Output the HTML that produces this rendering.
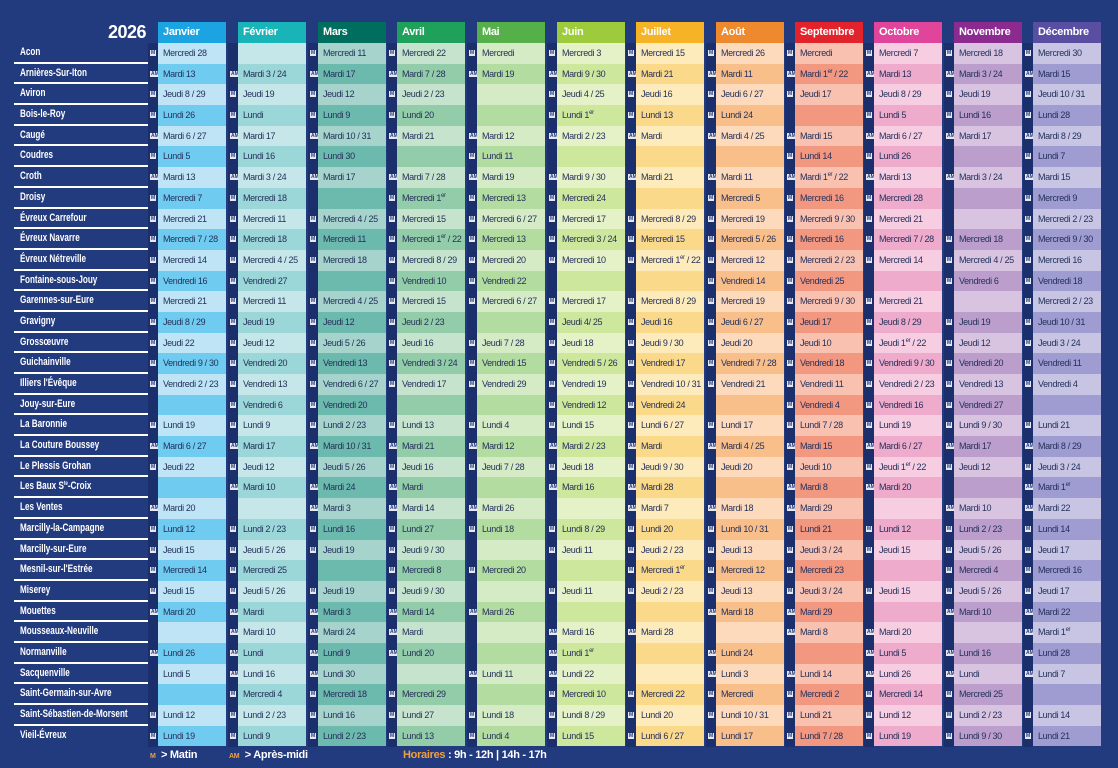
<!DOCTYPE html>
<html><head><meta charset="utf-8">
<style>
*{margin:0;padding:0;box-sizing:border-box}
body{width:1118px;height:768px;background:#223a7e;position:relative;overflow:hidden;font-family:"Liberation Sans",sans-serif}
sup{font-size:6px;line-height:0;vertical-align:4px}
.yr{position:absolute;left:108px;top:22px;color:#fff;font-weight:bold;font-size:18px;letter-spacing:-0.5px}
.names{position:absolute;left:14px;top:43px;width:134px}
.names div{height:20.7px;line-height:19px;color:#fff;font-weight:bold;font-size:11px;padding-left:6px;border-bottom:2px solid #fff;white-space:nowrap}
.names div span{display:inline-block;transform:scaleX(0.74);transform-origin:left center}
.names div:last-child{border-bottom:none}
.col{position:absolute;top:22px;width:68px}
.col .h{height:21px;line-height:21px;color:#fff;font-weight:bold;font-size:11px;padding-left:5px;background:var(--h);letter-spacing:-0.3px}
.col .c{height:20.7px;line-height:20.7px;font-size:9px;letter-spacing:-0.35px;color:#24305a;padding-left:5px;white-space:nowrap;overflow:hidden}
.col .c:nth-child(even){background:var(--l)}
.col .c:nth-child(odd){background:var(--d)}
.mk{position:absolute;top:43px;width:10px;height:704px;background:#1b2f6c}
.mk div{height:20.7px;position:relative}
.mk div span{position:absolute;left:2px;top:7px;height:6px;background:#e8e8f0;color:#223a7e;font-size:5px;line-height:6px;font-weight:bold;padding:0 1px}
.leg{position:absolute;top:749px;color:#fff;font-size:11px;font-weight:bold;letter-spacing:-0.3px}
.o{color:#f0a040}
</style></head><body>
<div class="yr">2026</div>
<div class="names">
<div><span>Acon</span></div><div><span>Arnières-Sur-Iton</span></div><div><span>Aviron</span></div><div><span>Bois-le-Roy</span></div><div><span>Caugé</span></div><div><span>Coudres</span></div><div><span>Croth</span></div><div><span>Droisy</span></div><div><span>Évreux Carrefour</span></div><div><span>Évreux Navarre</span></div><div><span>Évreux Nétreville</span></div><div><span>Fontaine-sous-Jouy</span></div><div><span>Garennes-sur-Eure</span></div><div><span>Gravigny</span></div><div><span>Grossœuvre</span></div><div><span>Guichainville</span></div><div><span>Illiers l'Évêque</span></div><div><span>Jouy-sur-Eure</span></div><div><span>La Baronnie</span></div><div><span>La Couture Boussey</span></div><div><span>Le Plessis Grohan</span></div><div><span>Les Baux S<sup>te</sup>-Croix</span></div><div><span>Les Ventes</span></div><div><span>Marcilly-la-Campagne</span></div><div><span>Marcilly-sur-Eure</span></div><div><span>Mesnil-sur-l'Estrée</span></div><div><span>Miserey</span></div><div><span>Mouettes</span></div><div><span>Mousseaux-Neuville</span></div><div><span>Normanville</span></div><div><span>Sacquenville</span></div><div><span>Saint-Germain-sur-Avre</span></div><div><span>Saint-Sébastien-de-Morsent</span></div><div><span>Vieil-Évreux</span></div>
</div>

<div class="mk" style="left:148px"><div><span>M</span></div><div><span>AM</span></div><div><span>M</span></div><div><span>M</span></div><div><span>AM</span></div><div><span>M</span></div><div><span>AM</span></div><div><span>M</span></div><div><span>M</span></div><div><span>M</span></div><div><span>M</span></div><div><span>M</span></div><div><span>M</span></div><div><span>M</span></div><div><span>M</span></div><div><span>M</span></div><div><span>M</span></div><div></div><div><span>M</span></div><div><span>AM</span></div><div><span>M</span></div><div></div><div><span>AM</span></div><div><span>M</span></div><div><span>M</span></div><div><span>M</span></div><div><span>M</span></div><div><span>AM</span></div><div></div><div><span>AM</span></div><div></div><div></div><div><span>M</span></div><div><span>M</span></div></div>
<div class="mk" style="left:228px"><div></div><div><span>AM</span></div><div><span>M</span></div><div><span>M</span></div><div><span>AM</span></div><div><span>M</span></div><div><span>AM</span></div><div><span>M</span></div><div><span>M</span></div><div><span>M</span></div><div><span>M</span></div><div><span>M</span></div><div><span>M</span></div><div><span>M</span></div><div><span>M</span></div><div><span>M</span></div><div><span>M</span></div><div><span>M</span></div><div><span>M</span></div><div><span>AM</span></div><div><span>M</span></div><div><span>AM</span></div><div></div><div><span>M</span></div><div><span>M</span></div><div><span>M</span></div><div><span>M</span></div><div><span>AM</span></div><div><span>AM</span></div><div><span>AM</span></div><div><span>AM</span></div><div><span>M</span></div><div><span>M</span></div><div><span>M</span></div></div>
<div class="mk" style="left:308px"><div><span>M</span></div><div><span>AM</span></div><div><span>M</span></div><div><span>M</span></div><div><span>AM</span></div><div><span>M</span></div><div><span>AM</span></div><div></div><div><span>M</span></div><div><span>M</span></div><div><span>M</span></div><div></div><div><span>M</span></div><div><span>M</span></div><div><span>M</span></div><div><span>M</span></div><div><span>M</span></div><div><span>M</span></div><div><span>M</span></div><div><span>AM</span></div><div><span>M</span></div><div><span>AM</span></div><div><span>AM</span></div><div><span>M</span></div><div><span>M</span></div><div></div><div><span>M</span></div><div><span>AM</span></div><div><span>AM</span></div><div><span>AM</span></div><div><span>AM</span></div><div><span>M</span></div><div><span>M</span></div><div><span>M</span></div></div>
<div class="mk" style="left:387px"><div><span>M</span></div><div><span>AM</span></div><div><span>M</span></div><div><span>M</span></div><div><span>AM</span></div><div></div><div><span>AM</span></div><div><span>M</span></div><div><span>M</span></div><div><span>M</span></div><div><span>M</span></div><div><span>M</span></div><div><span>M</span></div><div><span>M</span></div><div><span>M</span></div><div><span>M</span></div><div><span>M</span></div><div></div><div><span>M</span></div><div><span>AM</span></div><div><span>M</span></div><div><span>AM</span></div><div><span>AM</span></div><div><span>M</span></div><div><span>M</span></div><div><span>M</span></div><div><span>M</span></div><div><span>AM</span></div><div><span>AM</span></div><div><span>AM</span></div><div></div><div><span>M</span></div><div><span>M</span></div><div><span>M</span></div></div>
<div class="mk" style="left:467px"><div><span>M</span></div><div><span>AM</span></div><div></div><div></div><div><span>AM</span></div><div><span>M</span></div><div><span>AM</span></div><div><span>M</span></div><div><span>M</span></div><div><span>M</span></div><div><span>M</span></div><div><span>M</span></div><div><span>M</span></div><div></div><div><span>M</span></div><div><span>M</span></div><div><span>M</span></div><div></div><div><span>M</span></div><div><span>AM</span></div><div><span>M</span></div><div></div><div><span>AM</span></div><div><span>M</span></div><div></div><div><span>M</span></div><div></div><div><span>AM</span></div><div></div><div></div><div><span>AM</span></div><div></div><div><span>M</span></div><div><span>M</span></div></div>
<div class="mk" style="left:547px"><div><span>M</span></div><div><span>AM</span></div><div><span>M</span></div><div><span>M</span></div><div><span>AM</span></div><div></div><div><span>AM</span></div><div><span>M</span></div><div><span>M</span></div><div><span>M</span></div><div><span>M</span></div><div></div><div><span>M</span></div><div><span>M</span></div><div><span>M</span></div><div><span>M</span></div><div><span>M</span></div><div><span>M</span></div><div><span>M</span></div><div><span>AM</span></div><div><span>M</span></div><div><span>AM</span></div><div></div><div><span>M</span></div><div><span>M</span></div><div></div><div><span>M</span></div><div></div><div><span>AM</span></div><div><span>AM</span></div><div><span>AM</span></div><div><span>M</span></div><div><span>M</span></div><div><span>M</span></div></div>
<div class="mk" style="left:626px"><div><span>M</span></div><div><span>AM</span></div><div><span>M</span></div><div><span>M</span></div><div><span>AM</span></div><div></div><div><span>AM</span></div><div></div><div><span>M</span></div><div><span>M</span></div><div><span>M</span></div><div></div><div><span>M</span></div><div><span>M</span></div><div><span>M</span></div><div><span>M</span></div><div><span>M</span></div><div><span>M</span></div><div><span>M</span></div><div><span>AM</span></div><div><span>M</span></div><div><span>AM</span></div><div><span>AM</span></div><div><span>M</span></div><div><span>M</span></div><div><span>M</span></div><div><span>M</span></div><div></div><div><span>AM</span></div><div></div><div></div><div><span>M</span></div><div><span>M</span></div><div><span>M</span></div></div>
<div class="mk" style="left:706px"><div><span>M</span></div><div><span>AM</span></div><div><span>M</span></div><div><span>M</span></div><div><span>AM</span></div><div></div><div><span>AM</span></div><div><span>M</span></div><div><span>M</span></div><div><span>M</span></div><div><span>M</span></div><div><span>M</span></div><div><span>M</span></div><div><span>M</span></div><div><span>M</span></div><div><span>M</span></div><div><span>M</span></div><div></div><div><span>M</span></div><div><span>AM</span></div><div><span>M</span></div><div></div><div><span>AM</span></div><div><span>M</span></div><div><span>M</span></div><div><span>M</span></div><div><span>M</span></div><div><span>AM</span></div><div></div><div><span>AM</span></div><div><span>AM</span></div><div><span>M</span></div><div><span>M</span></div><div><span>M</span></div></div>
<div class="mk" style="left:785px"><div><span>M</span></div><div><span>AM</span></div><div><span>M</span></div><div></div><div><span>AM</span></div><div><span>M</span></div><div><span>AM</span></div><div><span>M</span></div><div><span>M</span></div><div><span>M</span></div><div><span>M</span></div><div><span>M</span></div><div><span>M</span></div><div><span>M</span></div><div><span>M</span></div><div><span>M</span></div><div><span>M</span></div><div><span>M</span></div><div><span>M</span></div><div><span>AM</span></div><div><span>M</span></div><div><span>AM</span></div><div><span>AM</span></div><div><span>M</span></div><div><span>M</span></div><div><span>M</span></div><div><span>M</span></div><div><span>AM</span></div><div><span>AM</span></div><div></div><div><span>AM</span></div><div><span>M</span></div><div><span>M</span></div><div><span>M</span></div></div>
<div class="mk" style="left:864px"><div><span>M</span></div><div><span>AM</span></div><div><span>M</span></div><div><span>M</span></div><div><span>AM</span></div><div><span>M</span></div><div><span>AM</span></div><div><span>M</span></div><div><span>M</span></div><div><span>M</span></div><div><span>M</span></div><div></div><div><span>M</span></div><div><span>M</span></div><div><span>M</span></div><div><span>M</span></div><div><span>M</span></div><div><span>M</span></div><div><span>M</span></div><div><span>AM</span></div><div><span>M</span></div><div><span>AM</span></div><div></div><div><span>M</span></div><div><span>M</span></div><div></div><div><span>M</span></div><div></div><div><span>AM</span></div><div><span>AM</span></div><div><span>AM</span></div><div><span>M</span></div><div><span>M</span></div><div><span>M</span></div></div>
<div class="mk" style="left:944px"><div><span>M</span></div><div><span>AM</span></div><div><span>M</span></div><div><span>M</span></div><div><span>AM</span></div><div></div><div><span>AM</span></div><div></div><div></div><div><span>M</span></div><div><span>M</span></div><div><span>M</span></div><div></div><div><span>M</span></div><div><span>M</span></div><div><span>M</span></div><div><span>M</span></div><div><span>M</span></div><div><span>M</span></div><div><span>AM</span></div><div><span>M</span></div><div></div><div><span>AM</span></div><div><span>M</span></div><div><span>M</span></div><div><span>M</span></div><div><span>M</span></div><div><span>AM</span></div><div></div><div><span>AM</span></div><div><span>AM</span></div><div><span>M</span></div><div><span>M</span></div><div><span>M</span></div></div>
<div class="mk" style="left:1023px"><div><span>M</span></div><div><span>AM</span></div><div><span>M</span></div><div><span>M</span></div><div><span>AM</span></div><div><span>M</span></div><div><span>AM</span></div><div><span>M</span></div><div><span>M</span></div><div><span>M</span></div><div><span>M</span></div><div><span>M</span></div><div><span>M</span></div><div><span>M</span></div><div><span>M</span></div><div><span>M</span></div><div><span>M</span></div><div></div><div><span>M</span></div><div><span>AM</span></div><div><span>M</span></div><div><span>AM</span></div><div><span>AM</span></div><div><span>M</span></div><div><span>M</span></div><div><span>M</span></div><div><span>M</span></div><div><span>AM</span></div><div><span>AM</span></div><div><span>AM</span></div><div><span>AM</span></div><div></div><div><span>M</span></div><div><span>M</span></div></div>

<div class="col" style="left:158px;--h:#1ba3e2;--l:#bfe4f6;--d:#70cbf0"><div class="h">Janvier</div>
<div class="c">Mercredi 28</div><div class="c">Mardi 13</div><div class="c">Jeudi 8 / 29</div><div class="c">Lundi 26</div><div class="c">Mardi 6 / 27</div><div class="c">Lundi 5</div><div class="c">Mardi 13</div><div class="c">Mercredi 7</div><div class="c">Mercredi 21</div><div class="c">Mercredi 7 / 28</div><div class="c">Mercredi 14</div><div class="c">Vendredi 16</div><div class="c">Mercredi 21</div><div class="c">Jeudi 8 / 29</div><div class="c">Jeudi 22</div><div class="c">Vendredi 9 / 30</div><div class="c">Vendredi 2 / 23</div><div class="c"></div><div class="c">Lundi 19</div><div class="c">Mardi 6 / 27</div><div class="c">Jeudi 22</div><div class="c"></div><div class="c">Mardi 20</div><div class="c">Lundi 12</div><div class="c">Jeudi 15</div><div class="c">Mercredi 14</div><div class="c">Jeudi 15</div><div class="c">Mardi 20</div><div class="c"></div><div class="c">Lundi 26</div><div class="c">Lundi 5</div><div class="c"></div><div class="c">Lundi 12</div><div class="c">Lundi 19</div></div>

<div class="col" style="left:238px;--h:#18b4b8;--l:#c6e7e9;--d:#9bd6d8"><div class="h">Février</div>
<div class="c"></div><div class="c">Mardi 3 / 24</div><div class="c">Jeudi 19</div><div class="c">Lundi</div><div class="c">Mardi 17</div><div class="c">Lundi 16</div><div class="c">Mardi 3 / 24</div><div class="c">Mercredi 18</div><div class="c">Mercredi 11</div><div class="c">Mercredi 18</div><div class="c">Mercredi 4 / 25</div><div class="c">Vendredi 27</div><div class="c">Mercredi 11</div><div class="c">Jeudi 19</div><div class="c">Jeudi 12</div><div class="c">Vendredi 20</div><div class="c">Vendredi 13</div><div class="c">Vendredi 6</div><div class="c">Lundi 9</div><div class="c">Mardi 17</div><div class="c">Jeudi 12</div><div class="c">Mardi 10</div><div class="c"></div><div class="c">Lundi 2 / 23</div><div class="c">Jeudi 5 / 26</div><div class="c">Mercredi 25</div><div class="c">Jeudi 5 / 26</div><div class="c">Mardi</div><div class="c">Mardi 10</div><div class="c">Lundi</div><div class="c">Lundi 16</div><div class="c">Mercredi 4</div><div class="c">Lundi 2 / 23</div><div class="c">Lundi 9</div></div>

<div class="col" style="left:318px;--h:#006e5f;--l:#a6d3cc;--d:#6cb9ae"><div class="h">Mars</div>
<div class="c">Mercredi 11</div><div class="c">Mardi 17</div><div class="c">Jeudi 12</div><div class="c">Lundi 9</div><div class="c">Mardi 10 / 31</div><div class="c">Lundi 30</div><div class="c">Mardi 17</div><div class="c"></div><div class="c">Mercredi 4 / 25</div><div class="c">Mercredi 11</div><div class="c">Mercredi 18</div><div class="c"></div><div class="c">Mercredi 4 / 25</div><div class="c">Jeudi 12</div><div class="c">Jeudi 5 / 26</div><div class="c">Vendredi 13</div><div class="c">Vendredi 6 / 27</div><div class="c">Vendredi 20</div><div class="c">Lundi 2 / 23</div><div class="c">Mardi 10 / 31</div><div class="c">Jeudi 5 / 26</div><div class="c">Mardi 24</div><div class="c">Mardi 3</div><div class="c">Lundi 16</div><div class="c">Jeudi 19</div><div class="c"></div><div class="c">Jeudi 19</div><div class="c">Mardi 3</div><div class="c">Mardi 24</div><div class="c">Lundi 9</div><div class="c">Lundi 30</div><div class="c">Mercredi 18</div><div class="c">Lundi 16</div><div class="c">Lundi 2 / 23</div></div>

<div class="col" style="left:397px;--h:#1fa05b;--l:#c6e4cd;--d:#93cca9"><div class="h">Avril</div>
<div class="c">Mercredi 22</div><div class="c">Mardi 7 / 28</div><div class="c">Jeudi 2 / 23</div><div class="c">Lundi 20</div><div class="c">Mardi 21</div><div class="c"></div><div class="c">Mardi 7 / 28</div><div class="c">Mercredi 1<sup>er</sup></div><div class="c">Mercredi 15</div><div class="c">Mercredi 1<sup>er</sup> / 22</div><div class="c">Mercredi 8 / 29</div><div class="c">Vendredi 10</div><div class="c">Mercredi 15</div><div class="c">Jeudi 2 / 23</div><div class="c">Jeudi 16</div><div class="c">Vendredi 3 / 24</div><div class="c">Vendredi 17</div><div class="c"></div><div class="c">Lundi 13</div><div class="c">Mardi 21</div><div class="c">Jeudi 16</div><div class="c">Mardi</div><div class="c">Mardi 14</div><div class="c">Lundi 27</div><div class="c">Jeudi 9 / 30</div><div class="c">Mercredi 8</div><div class="c">Jeudi 9 / 30</div><div class="c">Mardi 14</div><div class="c">Mardi</div><div class="c">Lundi 20</div><div class="c"></div><div class="c">Mercredi 29</div><div class="c">Lundi 27</div><div class="c">Lundi 13</div></div>

<div class="col" style="left:477px;--h:#55b04a;--l:#d4ebc6;--d:#b3dca1"><div class="h">Mai</div>
<div class="c">Mercredi</div><div class="c">Mardi 19</div><div class="c"></div><div class="c"></div><div class="c">Mardi 12</div><div class="c">Lundi 11</div><div class="c">Mardi 19</div><div class="c">Mercredi 13</div><div class="c">Mercredi 6 / 27</div><div class="c">Mercredi 13</div><div class="c">Mercredi 20</div><div class="c">Vendredi 22</div><div class="c">Mercredi 6 / 27</div><div class="c"></div><div class="c">Jeudi 7 / 28</div><div class="c">Vendredi 15</div><div class="c">Vendredi 29</div><div class="c"></div><div class="c">Lundi 4</div><div class="c">Mardi 12</div><div class="c">Jeudi 7 / 28</div><div class="c"></div><div class="c">Mardi 26</div><div class="c">Lundi 18</div><div class="c"></div><div class="c">Mercredi 20</div><div class="c"></div><div class="c">Mardi 26</div><div class="c"></div><div class="c"></div><div class="c">Lundi 11</div><div class="c"></div><div class="c">Lundi 18</div><div class="c">Lundi 4</div></div>

<div class="col" style="left:557px;--h:#9dcb3c;--l:#e5f1c7;--d:#cde79d"><div class="h">Juin</div>
<div class="c">Mercredi 3</div><div class="c">Mardi 9 / 30</div><div class="c">Jeudi 4 / 25</div><div class="c">Lundi 1<sup>er</sup></div><div class="c">Mardi 2 / 23</div><div class="c"></div><div class="c">Mardi 9 / 30</div><div class="c">Mercredi 24</div><div class="c">Mercredi 17</div><div class="c">Mercredi 3 / 24</div><div class="c">Mercredi 10</div><div class="c"></div><div class="c">Mercredi 17</div><div class="c">Jeudi 4/ 25</div><div class="c">Jeudi 18</div><div class="c">Vendredi 5 / 26</div><div class="c">Vendredi 19</div><div class="c">Vendredi 12</div><div class="c">Lundi 15</div><div class="c">Mardi 2 / 23</div><div class="c">Jeudi 18</div><div class="c">Mardi 16</div><div class="c"></div><div class="c">Lundi 8 / 29</div><div class="c">Jeudi 11</div><div class="c"></div><div class="c">Jeudi 11</div><div class="c"></div><div class="c">Mardi 16</div><div class="c">Lundi 1<sup>er</sup></div><div class="c">Lundi 22</div><div class="c">Mercredi 10</div><div class="c">Lundi 8 / 29</div><div class="c">Lundi 15</div></div>

<div class="col" style="left:636px;--h:#f5b325;--l:#fdebbb;--d:#fbd98b"><div class="h">Juillet</div>
<div class="c">Mercredi 15</div><div class="c">Mardi 21</div><div class="c">Jeudi 16</div><div class="c">Lundi 13</div><div class="c">Mardi</div><div class="c"></div><div class="c">Mardi 21</div><div class="c"></div><div class="c">Mercredi 8 / 29</div><div class="c">Mercredi 15</div><div class="c">Mercredi 1<sup>er</sup> / 22</div><div class="c"></div><div class="c">Mercredi 8 / 29</div><div class="c">Jeudi 16</div><div class="c">Jeudi 9 / 30</div><div class="c">Vendredi 17</div><div class="c">Vendredi 10 / 31</div><div class="c">Vendredi 24</div><div class="c">Lundi 6 / 27</div><div class="c">Mardi</div><div class="c">Jeudi 9 / 30</div><div class="c">Mardi 28</div><div class="c">Mardi 7</div><div class="c">Lundi 20</div><div class="c">Jeudi 2 / 23</div><div class="c">Mercredi 1<sup>er</sup></div><div class="c">Jeudi 2 / 23</div><div class="c"></div><div class="c">Mardi 28</div><div class="c"></div><div class="c"></div><div class="c">Mercredi 22</div><div class="c">Lundi 20</div><div class="c">Lundi 6 / 27</div></div>

<div class="col" style="left:716px;--h:#ee8a2d;--l:#fcdabb;--d:#f8bf8b"><div class="h">Août</div>
<div class="c">Mercredi 26</div><div class="c">Mardi 11</div><div class="c">Jeudi 6 / 27</div><div class="c">Lundi 24</div><div class="c">Mardi 4 / 25</div><div class="c"></div><div class="c">Mardi 11</div><div class="c">Mercredi 5</div><div class="c">Mercredi 19</div><div class="c">Mercredi 5 / 26</div><div class="c">Mercredi 12</div><div class="c">Vendredi 14</div><div class="c">Mercredi 19</div><div class="c">Jeudi 6 / 27</div><div class="c">Jeudi 20</div><div class="c">Vendredi 7 / 28</div><div class="c">Vendredi 21</div><div class="c"></div><div class="c">Lundi 17</div><div class="c">Mardi 4 / 25</div><div class="c">Jeudi 20</div><div class="c"></div><div class="c">Mardi 18</div><div class="c">Lundi 10 / 31</div><div class="c">Jeudi 13</div><div class="c">Mercredi 12</div><div class="c">Jeudi 13</div><div class="c">Mardi 18</div><div class="c"></div><div class="c">Lundi 24</div><div class="c">Lundi 3</div><div class="c">Mercredi</div><div class="c">Lundi 10 / 31</div><div class="c">Lundi 17</div></div>

<div class="col" style="left:795px;--h:#e3232c;--l:#f9c1af;--d:#f29780"><div class="h">Septembre</div>
<div class="c">Mercredi</div><div class="c">Mardi 1<sup>er</sup> / 22</div><div class="c">Jeudi 17</div><div class="c"></div><div class="c">Mardi 15</div><div class="c">Lundi 14</div><div class="c">Mardi 1<sup>er</sup> / 22</div><div class="c">Mercredi 16</div><div class="c">Mercredi 9 / 30</div><div class="c">Mercredi 16</div><div class="c">Mercredi 2 / 23</div><div class="c">Vendredi 25</div><div class="c">Mercredi 9 / 30</div><div class="c">Jeudi 17</div><div class="c">Jeudi 10</div><div class="c">Vendredi 18</div><div class="c">Vendredi 11</div><div class="c">Vendredi 4</div><div class="c">Lundi 7 / 28</div><div class="c">Mardi 15</div><div class="c">Jeudi 10</div><div class="c">Mardi 8</div><div class="c">Mardi 29</div><div class="c">Lundi 21</div><div class="c">Jeudi 3 / 24</div><div class="c">Mercredi 23</div><div class="c">Jeudi 3 / 24</div><div class="c">Mardi 29</div><div class="c">Mardi 8</div><div class="c"></div><div class="c">Lundi 14</div><div class="c">Mercredi 2</div><div class="c">Lundi 21</div><div class="c">Lundi 7 / 28</div></div>

<div class="col" style="left:874px;--h:#e0449b;--l:#f7cee1;--d:#eeabcc"><div class="h">Octobre</div>
<div class="c">Mercredi 7</div><div class="c">Mardi 13</div><div class="c">Jeudi 8 / 29</div><div class="c">Lundi 5</div><div class="c">Mardi 6 / 27</div><div class="c">Lundi 26</div><div class="c">Mardi 13</div><div class="c">Mercredi 28</div><div class="c">Mercredi 21</div><div class="c">Mercredi 7 / 28</div><div class="c">Mercredi 14</div><div class="c"></div><div class="c">Mercredi 21</div><div class="c">Jeudi 8 / 29</div><div class="c">Jeudi 1<sup>er</sup> / 22</div><div class="c">Vendredi 9 / 30</div><div class="c">Vendredi 2 / 23</div><div class="c">Vendredi 16</div><div class="c">Lundi 19</div><div class="c">Mardi 6 / 27</div><div class="c">Jeudi 1<sup>er</sup> / 22</div><div class="c">Mardi 20</div><div class="c"></div><div class="c">Lundi 12</div><div class="c">Jeudi 15</div><div class="c"></div><div class="c">Jeudi 15</div><div class="c"></div><div class="c">Mardi 20</div><div class="c">Lundi 5</div><div class="c">Lundi 26</div><div class="c">Mercredi 14</div><div class="c">Lundi 12</div><div class="c">Lundi 19</div></div>

<div class="col" style="left:954px;--h:#8b2b8f;--l:#d8c4e1;--d:#bc9ecd"><div class="h">Novembre</div>
<div class="c">Mercredi 18</div><div class="c">Mardi 3 / 24</div><div class="c">Jeudi 19</div><div class="c">Lundi 16</div><div class="c">Mardi 17</div><div class="c"></div><div class="c">Mardi 3 / 24</div><div class="c"></div><div class="c"></div><div class="c">Mercredi 18</div><div class="c">Mercredi 4 / 25</div><div class="c">Vendredi 6</div><div class="c"></div><div class="c">Jeudi 19</div><div class="c">Jeudi 12</div><div class="c">Vendredi 20</div><div class="c">Vendredi 13</div><div class="c">Vendredi 27</div><div class="c">Lundi 9 / 30</div><div class="c">Mardi 17</div><div class="c">Jeudi 12</div><div class="c"></div><div class="c">Mardi 10</div><div class="c">Lundi 2 / 23</div><div class="c">Jeudi 5 / 26</div><div class="c">Mercredi 4</div><div class="c">Jeudi 5 / 26</div><div class="c">Mardi 10</div><div class="c"></div><div class="c">Lundi 16</div><div class="c">Lundi</div><div class="c">Mercredi 25</div><div class="c">Lundi 2 / 23</div><div class="c">Lundi 9 / 30</div></div>

<div class="col" style="left:1033px;--h:#5a4ea3;--l:#c7c5e3;--d:#9e9cd0"><div class="h">Décembre</div>
<div class="c">Mercredi 30</div><div class="c">Mardi 15</div><div class="c">Jeudi 10 / 31</div><div class="c">Lundi 28</div><div class="c">Mardi 8 / 29</div><div class="c">Lundi 7</div><div class="c">Mardi 15</div><div class="c">Mercredi 9</div><div class="c">Mercredi 2 / 23</div><div class="c">Mercredi 9 / 30</div><div class="c">Mercredi 16</div><div class="c">Vendredi 18</div><div class="c">Mercredi 2 / 23</div><div class="c">Jeudi 10 / 31</div><div class="c">Jeudi 3 / 24</div><div class="c">Vendredi 11</div><div class="c">Vendredi 4</div><div class="c"></div><div class="c">Lundi 21</div><div class="c">Mardi 8 / 29</div><div class="c">Jeudi 3 / 24</div><div class="c">Mardi 1<sup>er</sup></div><div class="c">Mardi 22</div><div class="c">Lundi 14</div><div class="c">Jeudi 17</div><div class="c">Mercredi 16</div><div class="c">Jeudi 17</div><div class="c">Mardi 22</div><div class="c">Mardi 1<sup>er</sup></div><div class="c">Lundi 28</div><div class="c">Lundi 7</div><div class="c"></div><div class="c">Lundi 14</div><div class="c">Lundi 21</div></div>

<div class="leg" style="left:150px"><span class="o" style="font-size:7px">M</span>&nbsp; &gt; Matin</div>
<div class="leg" style="left:229px"><span class="o" style="font-size:7px">AM</span>&nbsp; &gt; Après-midi</div>
<div class="leg" style="left:403px"><span class="o">Horaires</span> : 9h - 12h | 14h - 17h</div>
</body></html>
